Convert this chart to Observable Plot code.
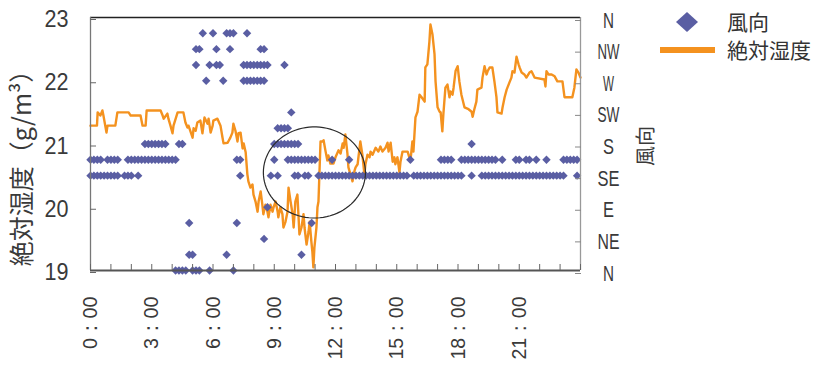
<!DOCTYPE html>
<html><head><meta charset="utf-8">
<script src="https://cdn.jsdelivr.net/npm/d3@7"></script>
<script src="https://cdn.jsdelivr.net/npm/@observablehq/plot@0.6"></script>
<style>
body{margin:0;background:#fff;}
#wrap{position:relative;width:816px;height:368px;overflow:hidden;}
.lg{position:absolute;font-family:"Noto Sans CJK JP";font-size:21px;line-height:1;color:#333;white-space:nowrap;}
</style></head><body><div id="wrap"></div>
<script>
// ---- humidity (g/m3) : time in minutes since 0:00 ----
const humTime = [0,19,21,29,35,38,47,50,73,79,112,118,147,153,162,165,206,212,215,226,229,235,241,244,256,273,279,285,288,300,303,309,314,323,329,335,344,347,353,359,361,373,382,388,391,403,411,417,420,426,432,435,441,447,450,456,461,464,470,476,479,485,491,494,500,505,508,514,520,523,529,535,538,544,550,552,558,564,567,573,579,582,588,594,597,602,608,611,614,620,626,629,635,641,644,649,652,655,658,664,667,670,673,676,682,685,691,696,699,705,714,720,729,735,741,744,749,755,758,764,770,776,779,785,793,799,805,808,814,820,823,829,838,846,852,858,867,873,876,882,888,893,896,902,908,911,917,932,937,940,946,949,955,961,967,973,982,984,990,996,999,1005,1011,1014,1020,1026,1029,1034,1037,1043,1049,1055,1058,1064,1067,1073,1079,1084,1090,1099,1111,1120,1123,1128,1134,1137,1149,1152,1158,1164,1167,1173,1181,1187,1193,1196,1208,1211,1217,1223,1231,1237,1240,1246,1252,1258,1261,1267,1275,1281,1290,1296,1305,1334,1337,1340,1346,1355,1364,1372,1387,1393,1416,1422,1428,1434,1440];
const humValue = [21.29,21.29,21.50,21.45,21.53,21.45,21.18,21.29,21.29,21.50,
21.50,21.45,21.45,21.29,21.29,21.53,21.53,21.45,21.40,21.48,
21.40,21.29,21.17,21.29,21.50,21.50,21.34,21.26,21.29,21.10,
21.25,21.21,21.34,21.37,21.17,21.42,21.32,21.40,21.18,21.29,
21.37,21.40,21.29,21.10,21.01,21.02,21.10,21.18,21.32,21.21,
21.04,21.17,21.18,20.93,21.01,20.87,20.52,20.41,20.31,20.36,
20.20,20.09,19.93,20.09,20.25,20.04,19.89,20.04,19.93,19.84,
20.04,19.93,20.00,20.09,19.93,19.84,20.00,19.89,19.68,19.77,
19.93,20.31,20.09,19.89,19.68,20.09,20.20,19.89,19.57,19.68,
19.89,19.68,19.41,19.62,19.77,19.46,19.30,19.05,19.36,19.68,
20.00,20.09,20.57,21.04,21.04,21.06,20.88,20.74,20.82,20.69,
20.69,20.79,20.90,20.85,21.01,20.94,21.15,20.85,20.63,20.52,
20.41,20.58,20.63,20.68,21.04,20.83,20.52,20.68,20.83,20.79,
20.88,20.83,20.94,20.88,20.96,20.88,20.94,21.02,20.88,21.02,
20.72,20.79,20.68,20.79,20.55,20.72,20.88,20.88,20.79,20.72,
21.04,20.88,21.42,21.51,21.78,21.74,21.67,22.21,22.26,22.62,
22.89,22.73,22.42,21.99,21.58,21.51,21.50,21.20,21.47,21.89,
21.94,21.74,21.83,21.78,21.89,22.16,22.23,21.99,21.78,21.58,
21.55,21.51,21.43,21.55,21.67,21.86,21.89,22.05,22.23,22.10,
22.15,22.21,22.21,21.99,21.74,21.50,21.48,21.58,21.74,21.86,
21.97,22.05,22.15,22.13,22.38,22.26,22.21,22.13,22.10,22.05,
22.13,22.15,22.05,22.02,21.91,22.15,22.10,22.10,22.07,21.99,
21.99,21.74,21.74,21.89,22.18,22.13,22.05];

// ---- wind direction observations (minutes since 0:00), one list per 16-point direction ----
const windSE  = [0,10,20,30,40,50,60,70,80,100,110,120,140,440,530,550,600,610,630,640,670,680,690,700,710,720,730,740,750,760,770,780,790,800,810,820,830,840,850,860,870,880,890,900,910,920,930,950,960,970,980,990,1000,1010,1020,1030,1040,1050,1060,1070,1080,1090,1120,1150,1160,1170,1180,1190,1200,1210,1220,1230,1240,1250,1260,1270,1280,1290,1300,1310,1320,1330,1340,1350,1360,1370,1380,1390,1430];
const windSSE = [0,10,20,30,50,60,70,80,110,120,130,140,150,160,170,180,190,200,210,220,230,240,250,430,440,540,580,590,600,610,620,630,640,650,660,710,760,940,1030,1040,1050,1060,1090,1100,1110,1120,1130,1140,1150,1160,1170,1180,1190,1210,1250,1260,1280,1290,1310,1340,1390,1400,1410,1420,1430];
const windS   = [160,170,180,190,200,210,220,260,270,540,550,560,570,580,590,600,610,1120];
const windSSW = [550,560,570,580];
const windSW  = [590];
const windW   = [340,390,450,460,470,480,490,500,510];
const windWNW = [310,350,370,380,450,460,470,480,490,500,510,520,570];
const windNW  = [310,320,370,410,500,510];
const windNNW = [330,360,400,410,420,460];
const windE   = [520];
const windENE = [290,430,650];
const windNE  = [510];
const windNNE = [290,300,400,620];
const windN   = [250,260,270,280,300,310,320,350,420];

const compass16 = ["N","NNE","NE","ENE","E","ESE","SE","SSE","S","SSW","SW","WSW","W","WNW","NW","NNW","N"];
const dirAxisLabels = ["N","NE","E","SE","S","SW","W","NW","N"];
const humidityTicks = [19,20,21,22,23];
const humidityTickLabels = ["19","20","21","22","23"];
const timeTickValues = [0,180,360,540,720,900,1080,1260];
const timeTickLabels = ["0：00","3：00","6：00","9：00","12：00","15：00","18：00","21：00"];
const hourTicks = [0,60,120,180,240,300,360,420,480,540,600,660,720,780,840,900,960,1020,1080,1140,1200,1260,1320,1380,1440];
const yLabel = "絶対湿度（g/m³）";
const y2Label = "風向";
const legendWind = "風向";
const legendHum = "絶対湿度";
// annotation ellipse (centre & radii in data units)
const ringCenter = [658, 20.55];
const ringRadius = [150, 0.72];

const yDomain = [19, 23];
const dirToY = d => yDomain[0] + compass16.indexOf(d) * (yDomain[1] - yDomain[0]) / 16;
const dirTicks = dirAxisLabels.map((d, i) => yDomain[0] + i * (yDomain[1] - yDomain[0]) / 8);

const humidity = humTime.map((t, i) => ({t, h: humValue[i]}));
const windRows = [["SE",windSE],["SSE",windSSE],["S",windS],["SSW",windSSW],["SW",windSW],["W",windW],["WNW",windWNW],["NW",windNW],["NNW",windNNW],["E",windE],["ENE",windENE],["NE",windNE],["NNE",windNNE],["N",windN]];
const wind = windRows.flatMap(([d, ts]) => ts.map(t => ({t, y: dirToY(d)})));
const ring = d3.range(0, 361, 4).map(a => ({
  t: ringCenter[0] + ringRadius[0] * Math.cos(a * Math.PI / 180),
  h: ringCenter[1] + ringRadius[1] * Math.sin(a * Math.PI / 180)
}));

const TXT = "#3a3a3a";
const chart = Plot.plot({
  width: 816, height: 368,
  marginLeft: 90, marginRight: 236, marginTop: 17, marginBottom: 98,
  x: {domain: [0, 1440]},
  y: {domain: yDomain},
  style: {fontFamily: "'Liberation Sans', sans-serif", color: TXT, background: "white"},
  marks: [
    Plot.line(humidity, {x: "t", y: "h", stroke: "#f4921f", strokeWidth: 2.4, strokeLinejoin: "round"}),
    Plot.dot(wind, {x: "t", y: "y", symbol: "diamond2", r: 3.8, fill: "#5a5ea3", stroke: "none"}),
    Plot.line(ring, {x: "t", y: "h", stroke: "#2a2a2a", strokeWidth: 1.2}),
    Plot.ruleY([yDomain[1]], {stroke: "#222", strokeWidth: 1.5}),
    Plot.ruleY([yDomain[0]], {stroke: "#555", strokeWidth: 2}),
    Plot.ruleX([0], {stroke: "#777", strokeWidth: 1.3}),
    Plot.ruleX([1440], {stroke: "#999", strokeWidth: 1.3}),
    Plot.axisY({anchor: "left", ticks: humidityTicks, tickFormat: d => humidityTickLabels[humidityTicks.indexOf(d)], tickSize: -6, tickPadding: 28, fontSize: 24, dy: 2, label: null, stroke: "#666"}),
    Plot.axisY({anchor: "right", ticks: dirTicks, tickFormat: d => dirAxisLabels[dirTicks.indexOf(d)], tickSize: -6, tickPadding: 34, textAnchor: "middle", fontSize: 22, dy: 3, label: null, stroke: "#888"}),
    Plot.axisX({ticks: hourTicks, tickSize: -6, tickFormat: () => "", label: null, stroke: "#666"}),
    Plot.axisX({ticks: timeTickValues, tickFormat: d => timeTickLabels[timeTickValues.indexOf(d)], tickSize: 0, tickRotate: -90, tickPadding: 26, fontSize: 21, label: null}),
    Plot.text([yLabel], {text: d => d, frameAnchor: "left", textAnchor: "middle", dx: -68, dy: 18, rotate: -90, fontSize: 25, fontFamily: "Noto Sans CJK JP", fill: TXT}),
    Plot.text([y2Label], {text: d => d, frameAnchor: "right", textAnchor: "middle", dx: 66, dy: 2, rotate: -90, fontSize: 20, fontFamily: "Noto Sans CJK JP", fill: TXT})
  ]
});
const wrap = document.getElementById("wrap");
wrap.appendChild(chart);
// half-width glyph metrics like a Japanese gothic font
chart.querySelectorAll('g[aria-label$="tick label"] text').forEach(t => {
  const s = t.textContent;
  if (!s) return;
  let n = 0; for (const ch of s) n += ch.charCodeAt(0) < 256 ? 0.5 : 1;
  const fs = parseFloat(getComputedStyle(t).fontSize);
  t.setAttribute("textLength", n * fs);
  t.setAttribute("lengthAdjust", "spacingAndGlyphs");
});
// legend
const lg = [
  `<div class="lg" style="left:676px;top:12px;"><svg width="22" height="20"><path d="M11,0 L22,10 L11,20 L0,10Z" fill="#5a5ea3"/></svg></div>`,
  `<div class="lg" style="left:727px;top:11px;">${legendWind}</div>`,
  `<div class="lg" style="left:660px;top:47px;width:55px;height:6px;background:#f4921f;"></div>`,
  `<div class="lg" style="left:727px;top:39px;">${legendHum}</div>`
];
wrap.insertAdjacentHTML("beforeend", lg.join(""));
</script></body></html>
